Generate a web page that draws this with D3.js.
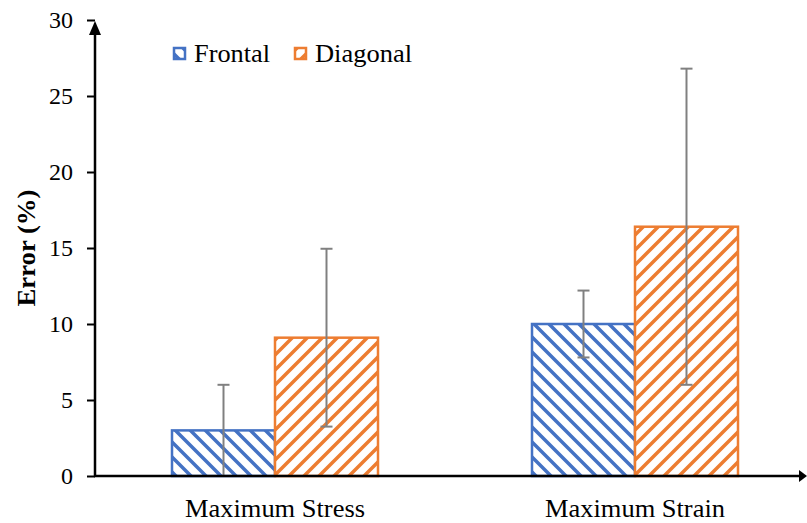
<!DOCTYPE html>
<html>
<head>
<meta charset="utf-8">
<script src="https://cdn.jsdelivr.net/npm/d3@7"></script>
<style>
  html, body { margin: 0; padding: 0; background: #fff; }
  svg { display: block; font-family: "Liberation Serif", "Times New Roman", serif; }
</style>
</head>
<body>
<svg id="chart" width="807" height="523"></svg>
<script>
// Error percentages per loading direction
const categories = ["Maximum Stress", "Maximum Strain"];
const seriesNames = ["Frontal", "Diagonal"];
const frontalValues = [3.0, 10.0];
const frontalErrors = [3.0, 2.2];
const diagonalValues = [9.1, 16.4];
const diagonalErrors = [5.85, 10.4];
const yTicks = [0, 5, 10, 15, 20, 25, 30];

const series = [
  { name: seriesNames[0], values: frontalValues, errors: frontalErrors, color: "#4472C4", pat: "hatchFrontal" },
  { name: seriesNames[1], values: diagonalValues, errors: diagonalErrors, color: "#ED7D31", pat: "hatchDiagonal" }
];

const svg = d3.select("#chart");
const x0 = 95, x1 = 815, yBase = 476, yTop = 20;
const serif = "Liberation Serif, Times New Roman, serif";

const x = d3.scaleBand().domain(categories).range([x0, x1]).paddingInner(0).paddingOuter(0);
const xs = d3.scaleBand().domain(seriesNames).range([0, x.bandwidth()]).paddingInner(0).paddingOuter(0.7476);
const y = d3.scaleLinear().domain([0, 30]).range([yBase, yTop]);

// Hatch patterns (wide diagonal stripes)
const defs = svg.append("defs");
function hatch(id, color, downward) {
  const s = 15;
  const p = defs.append("pattern")
    .attr("id", id).attr("patternUnits", "userSpaceOnUse")
    .attr("width", s).attr("height", s);
  p.append("rect").attr("width", s).attr("height", s).attr("fill", "#fff");
  const d = downward
    ? `M-4,-4 L${s + 4},${s + 4} M-4,${s - 4} L4,${s + 4} M${s - 4},-4 L${s + 4},4`
    : `M-4,${s + 4} L${s + 4},-4 M-4,4 L4,-4 M${s - 4},${s + 4} L${s + 4},${s - 4}`;
  p.append("path").attr("d", d).attr("stroke", color).attr("stroke-width", 3.5);
}
hatch("hatchFrontal", "#4472C4", true);
hatch("hatchDiagonal", "#ED7D31", false);

// Bars
const groups = svg.append("g").selectAll("g").data(series).join("g");
groups.selectAll("rect")
  .data(s => categories.map((c, i) => ({ c, v: s.values[i], s })))
  .join("rect")
  .attr("x", d => x(d.c) + xs(d.s.name))
  .attr("width", xs.bandwidth())
  .attr("y", d => y(d.v))
  .attr("height", d => y(0) - y(d.v))
  .attr("fill", d => `url(#${d.s.pat})`)
  .attr("stroke", d => d.s.color)
  .attr("stroke-width", 2.5);

// Error bars
const eb = svg.append("g").attr("stroke", "#808080").attr("stroke-width", 2);
series.forEach(s => {
  categories.forEach((c, i) => {
    const cx = x(c) + xs(s.name) + xs.bandwidth() / 2;
    const hi = y(s.values[i] + s.errors[i]);
    const lo = y(Math.max(0, s.values[i] - s.errors[i]));
    eb.append("line").attr("x1", cx).attr("x2", cx).attr("y1", hi).attr("y2", lo);
    eb.append("line").attr("x1", cx - 6).attr("x2", cx + 6).attr("y1", hi).attr("y2", hi);
    eb.append("line").attr("x1", cx - 6).attr("x2", cx + 6).attr("y1", lo).attr("y2", lo);
  });
});

// Y axis
const yAxis = d3.axisLeft(y).tickValues(yTicks).tickSize(8).tickPadding(14).tickFormat(d3.format("d"));
const gy = svg.append("g").attr("transform", `translate(${x0},0)`).call(yAxis);
gy.select(".domain").remove();
gy.selectAll(".tick line").attr("stroke", "#000").attr("stroke-width", 2);
gy.selectAll(".tick text").attr("font-size", 24).attr("fill", "#000").attr("font-family", serif);
svg.append("line").attr("x1", x0).attr("x2", x0).attr("y1", yBase + 1).attr("y2", 30)
  .attr("stroke", "#000").attr("stroke-width", 2.5);
svg.append("path").attr("d", `M${x0},21 L${x0 - 6},35 L${x0 + 6},35 Z`).attr("fill", "#000");

// X axis
const xAxis = d3.axisBottom(x).tickSize(0).tickPadding(23);
const gx = svg.append("g").attr("transform", `translate(0,${yBase})`).call(xAxis);
gx.select(".domain").remove();
gx.selectAll(".tick text").attr("font-size", 25).attr("fill", "#000").attr("font-family", serif)
  .attr("textLength", 180).attr("lengthAdjust", "spacingAndGlyphs");
svg.append("line").attr("x1", x0 - 1).attr("x2", 800).attr("y1", yBase).attr("y2", yBase)
  .attr("stroke", "#000").attr("stroke-width", 2.5);
svg.append("path").attr("d", `M807,${yBase} L799,${yBase - 6} L799,${yBase + 6} Z`).attr("fill", "#000");

// Axis title
svg.append("text")
  .attr("transform", "translate(35,248) rotate(-90)")
  .attr("text-anchor", "middle")
  .attr("font-size", 25).attr("font-weight", "bold")
  .attr("textLength", 117).attr("lengthAdjust", "spacingAndGlyphs")
  .text("Error (%)");

// Legend
const legend = svg.append("g");
const legendX = [173, 294];
const legendW = [76, 97];
series.forEach((s, i) => {
  legend.append("rect").attr("x", legendX[i] + 1).attr("y", 48).attr("width", 11).attr("height", 11)
    .attr("fill", `url(#${s.pat})`).attr("stroke", s.color).attr("stroke-width", 2.5);
  legend.append("text").attr("x", legendX[i] + 21).attr("y", 62)
    .attr("font-size", 25)
    .attr("textLength", legendW[i]).attr("lengthAdjust", "spacingAndGlyphs")
    .text(s.name);
});
</script>
</body>
</html>
